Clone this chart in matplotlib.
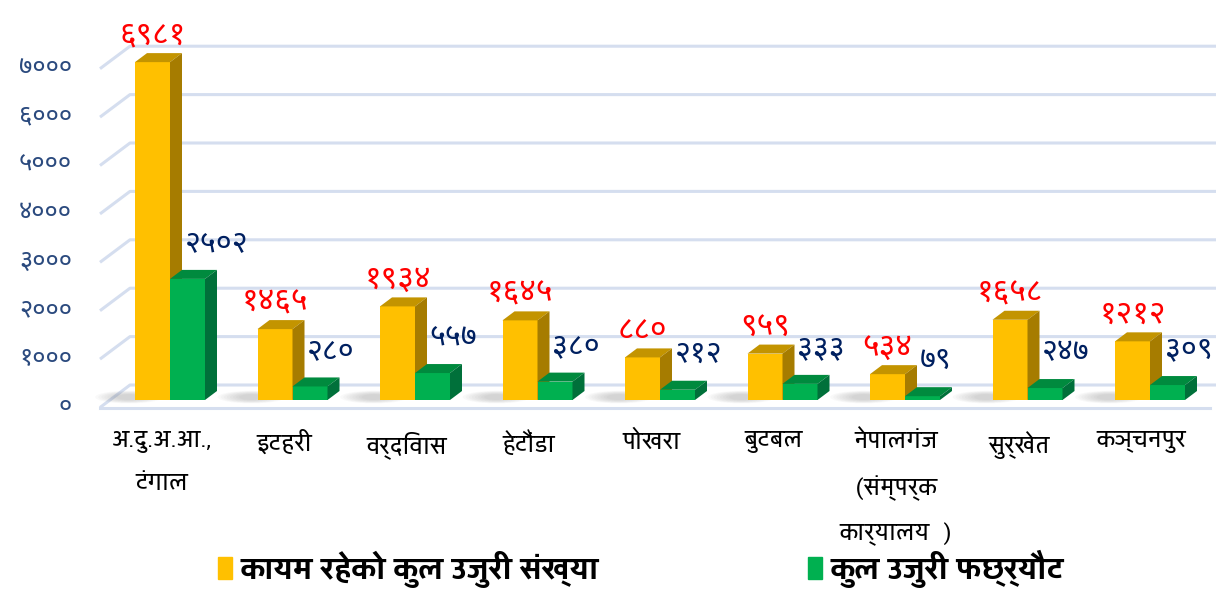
import matplotlib
matplotlib.use("Agg")
import matplotlib.pyplot as plt
from matplotlib import font_manager
from matplotlib.patches import Polygon, Ellipse, Patch

# ---------------- data ----------------
categories = ["अ.दु.अ.आ.,\nटंगाल", "इटहरी", "वर्दिवास", "हेटौंडा", "पोखरा",
              "बुटबल", "नेपालगंज\n(संम्पर्क\nकार्यालय  )", "सुर्खेत", "कञ्चनपुर"]
series_names = ["कायम रहेको कुल उजुरी संख्या", "कुल उजुरी फछ्र्यौट"]
pending = [6981, 1465, 1934, 1645, 880, 959, 534, 1658, 1212]
settled = [2502, 280, 557, 380, 212, 333, 79, 247, 309]
yticks = [0, 1000, 2000, 3000, 4000, 5000, 6000, 7000]

DEV_DIGITS = "०१२३४५६७८९"


def dev(n):
    return "".join(DEV_DIGITS[int(c)] for c in str(n))


# ---------------- fonts ----------------
names = {f.name for f in font_manager.fontManager.ttflist}
def pick(prefs):
    for p in prefs:
        if p in names:
            return p
    return "DejaVu Sans"

FONT_NUM = pick(["Noto Sans Devanagari", "Mukta", "Annapurna SIL", "Yantramanav", "FreeSans"])
FONT_LBL = pick(["Yantramanav", "Hind", "Mukta", "FreeSans"])
plt.rcParams["font.family"] = [FONT_NUM, "DejaVu Sans"]

# ---------------- geometry (pixel-calibrated data frame) ----------------
W, H = 12.16, 5.90
fig = plt.figure(figsize=(W, H), dpi=100)
ax = fig.add_axes([0, 0, 1, 1])
PX_X = 122.5          # px per category
PX_Y = 0.0484         # px per value unit
X0, Y0 = 170, 400     # pixel of (0, 0)
ax.set_xlim(-X0 / PX_X, (1216 - X0) / PX_X)
ax.set_ylim((Y0 - 590) / PX_Y, Y0 / PX_Y)
ax.axis("off")

bw = 35 / PX_X          # bar width
ddx = 12 / PX_X         # depth x
ddy = 9 / PX_Y          # depth y
wall_dx = 30 / PX_X
wall_back = 15 / PX_Y
wall_front = -7.5 / PX_Y
grid_c = "#D5DEEF"
x_left_back = -40 / PX_X
x_left_front = x_left_back - wall_dx
x_right = (1216 - X0) / PX_X

# gridlines (back wall + left diagonal)
for v in yticks:
    ax.plot([x_left_front, x_left_back, x_right],
            [v + wall_front, v + wall_back, v + wall_back],
            color=grid_c, lw=2.2, zorder=1, solid_capstyle="butt")
ax.plot([x_left_front, (1210 - X0) / PX_X], [wall_front, wall_front],
        color=grid_c, lw=2.2, zorder=1)

# tick labels
for v in yticks:
    ax.text(-98 / PX_X, v + wall_front + 20, dev(v), ha="right", va="center",
            fontsize=18.5, color="#2B4A7E")

# shadows
for i in range(len(categories)):
    for k in range(8):
        ax.add_patch(Ellipse((i - bw - 0.05, 60), 0.55 - k * 0.05, 260 - k * 20,
                             color="#606060", alpha=0.035, lw=0, zorder=1.5))

yellow = ("#FFC000", "#C39400", "#A67C00")
green = ("#00B050", "#008A3E", "#00703A")


def bar3d(x_left, val, cols):
    front, top, side = cols
    ax.bar(x_left, val, width=bw, align="edge", color=front, lw=0, zorder=3)
    ax.add_patch(Polygon([(x_left, val), (x_left + bw, val),
                          (x_left + bw + ddx, val + ddy), (x_left + ddx, val + ddy)],
                         closed=True, color=top, lw=0, zorder=3))
    ax.add_patch(Polygon([(x_left + bw, 0), (x_left + bw + ddx, ddy),
                          (x_left + bw + ddx, val + ddy), (x_left + bw, val)],
                         closed=True, color=side, lw=0, zorder=3))


for i, (p, s) in enumerate(zip(pending, settled)):
    bar3d(i - bw, p, yellow)
    bar3d(i, s, green)
    ax.text(i - bw / 2, p + 560, dev(p), ha="center", va="center",
            fontsize=23, color="#FF0000", zorder=5)
    ax.text(i + 0.12, s + 740, dev(s), ha="left", va="center",
            fontsize=22, color="#002060", zorder=5)

# category labels
for i, c in enumerate(categories):
    ax.text(i - 0.07, (Y0 - 431) / PX_Y, c, ha="center", va="top",
            fontsize=18, color="black", linespacing=2.15,
            family=[FONT_LBL, "DejaVu Sans"])

# legend
handles = [Patch(color=yellow[0]), Patch(color=green[0])]
fig.legend(handles, series_names, ncol=2, loc="center",
           bbox_to_anchor=(0.527, 0.035), frameon=False,
           handlelength=0.45, handleheight=0.7, handletextpad=0.25,
           columnspacing=6.55,
           prop=font_manager.FontProperties(family=[FONT_LBL, "DejaVu Sans"],
                                            weight="bold", size=23))

fig.savefig("out.png", dpi=100)
